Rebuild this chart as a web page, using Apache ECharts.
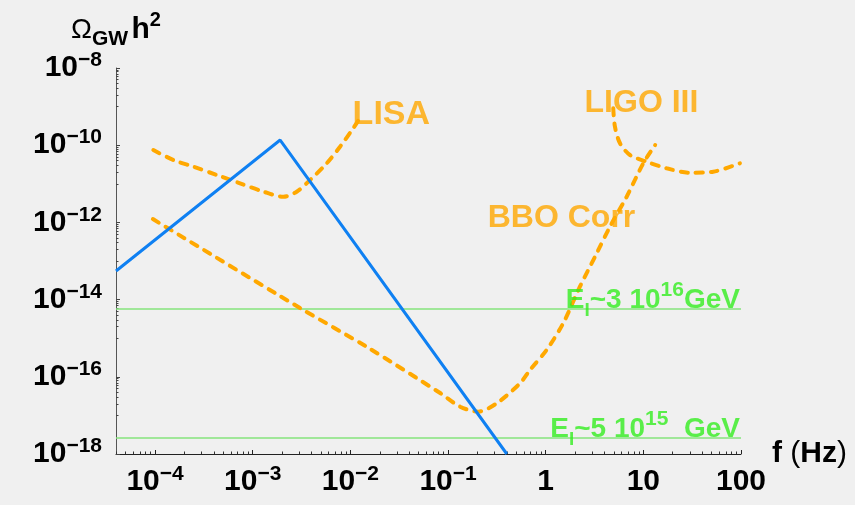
<!DOCTYPE html>
<html><head><meta charset="utf-8">
<script src="https://cdn.jsdelivr.net/npm/echarts@6/dist/echarts.min.js"></script>
<style>html,body{margin:0;padding:0;background:#f0f0f0}#c{width:855px;height:505px}</style>
</head><body><div id="c"></div>
<script>
// ---- data (frequency in Hz, Omega_GW h^2) ----
const xTickExponents = [-4, -3, -2, -1, 0, 1, 2];
const yTickExponents = [-18, -16, -14, -12, -10, -8];
const xRange = [3.98e-5, 100];
const yRange = [1e-18, 1e-8];

const inflationF = [3.98e-5, 1.91e-3, 0.40];
const inflationOmega = [5.5e-14, 1.36e-10, 1e-18];

const lisaF = [9.6e-5, 1.54e-4, 2.47e-4, 4.29e-4, 7.41e-4, 1.29e-3, 2.06e-3, 2.82e-3, 3.86e-3, 5.73e-3, 7.83e-3, 1.07e-2, 1.29e-2];
const lisaOmega = [7.5e-11, 4.14e-11, 2.77e-11, 1.69e-11, 1.03e-11, 6.24e-12, 4.63e-12, 6.24e-12, 1.25e-11, 3.40e-11, 9.14e-11, 2.74e-10, 5.70e-10];

const bboF = [9.5e-5, 3.05e-3, 1.48e-2, 8.3e-2, 0.133, 0.204, 0.315, 0.546, 0.69, 1.02, 1.51, 2.24, 3.33, 4.55, 6.75, 9.98, 13.2];
const bboOmega = [1.22e-12, 6.05e-15, 5.91e-16, 3.8e-17, 1.68e-17, 1.25e-17, 2.06e-17, 6.79e-17, 1.5e-16, 4.94e-16, 2.43e-15, 2.16e-14, 1.58e-13, 7.74e-13, 4.63e-12, 3.40e-11, 1.01e-10];

const ligoF = [4.92, 5.12, 5.77, 7.30, 10.8, 17.3, 29.9, 52.0, 97.5];
const ligoOmega = [9.04e-10, 3.01e-10, 1.12e-10, 5.57e-11, 3.74e-11, 2.52e-11, 1.94e-11, 2.06e-11, 3.40e-11];

const energyLevels = [5.7e-15, 2.6e-18];
const energyMantissa = ['~3 10', '~5 10'];
const energyExponent = ['16', '15'];
const energyUnit = ['GeV', '  GeV'];

const detectorNames = ['LISA', 'LIGO III', 'BBO Corr'];
const detectorLabelF = [0.01054, 2.50, 0.255];
const detectorLabelOmega = [6.05e-10, 1.22e-9, 1.28e-12];

// ---- build ----
const lg = Math.log10;
const toLog = (fs, os) => fs.map((f, i) => [lg(f), lg(os[i])]);
const FONT = "'Liberation Sans', Arial, Helvetica, sans-serif";
const ORANGE = '#ffa800';
const BLUE = '#0f80f2';
const GREEN_LINE = '#86e47c';
const GREEN_TEXT = '#33ee1f';

const xMin = lg(xRange[0]), xMax = lg(xRange[1]);
const yMin = lg(yRange[0]), yMax = lg(yRange[1]);

const xMinor = [];
for (let n = -5; n <= 1; n++) for (let k = 2; k <= 9; k++) {
  const v = n + lg(k); if (v > xMin && v < xMax) xMinor.push(v);
}
const yMinor = [];
yTickExponents.forEach(m => { for (let j = 1; j <= 9; j++) { const v = m - 1 + lg(j); if (v > yMin && v < yMax) yMinor.push(v); } });

const tickRich = {
  b: { fontSize: 30, fontWeight: 'bold', fontFamily: FONT, color: '#000', lineHeight: 36, verticalAlign: 'middle' },
  s: { fontSize: 21, fontWeight: 'bold', fontFamily: FONT, color: '#000', lineHeight: 16, verticalAlign: 'top' }
};
const powLabel = v => {
  const e = Math.round(v);
  if (e === 0) return '{b|1}';
  if (e === 1) return '{b|10}';
  if (e === 2) return '{b|100}';
  return '{b|10}{s|\u2212' + (-e) + '}';
};

const dashed = { color: ORANGE, width: 4, type: [7, 8], cap: 'round' };

const energySeries = energyLevels.map((lv, i) => ({
  type: 'line', symbol: 'none', silent: true, z: 2,
  lineStyle: { color: GREEN_LINE, width: 1.5 },
  data: [[xMin, lg(lv)], [xMax, lg(lv)]]
}));

const energyLabelData = energyLevels.map((lv, i) => ({
  value: [xMax, lg(lv)],
  label: {
    show: true, position: [0, 0], align: 'right', verticalAlign: 'middle', offset: [-1, -9],
    formatter: '{g|E}{i|I}{g|' + energyMantissa[i] + '}{p|' + energyExponent[i] + '}{g|' + energyUnit[i] + '}',
    rich: {
      g: { fontSize: 28, fontWeight: 'bold', fontFamily: FONT, color: GREEN_TEXT, lineHeight: 40, verticalAlign: 'middle' },
      i: { fontSize: 19, fontWeight: 'bold', fontFamily: FONT, color: GREEN_TEXT, lineHeight: 23, verticalAlign: 'bottom' },
      p: { fontSize: 21, fontWeight: 'bold', fontFamily: FONT, color: GREEN_TEXT, lineHeight: 27, verticalAlign: 'top' }
    }
  }
}));

const detectorLabelData = detectorNames.map((nm, i) => ({
  value: [lg(detectorLabelF[i]), lg(detectorLabelOmega[i])],
  name: nm,
  label: {
    show: true, position: [0, 0], align: 'left', verticalAlign: 'middle',
    formatter: '{b}', color: ORANGE, fontSize: i === 0 ? 34 : 32, fontWeight: 'bold', fontFamily: FONT
  }
}));

const chart = echarts.init(document.getElementById('c'), null, { renderer: 'canvas' });
chart.setOption({
  backgroundColor: '#f0f0f0',
  animation: false,
  grid: { left: 116, right: 114, top: 68, bottom: 51, outerBoundsMode: 'none' },
  xAxis: [{
    type: 'value', min: xMin, max: xMax, position: 'bottom',
    name: '{n|f }{r|(}{n|Hz}{r|)}', nameLocation: 'end', nameGap: 30,
    nameTextStyle: { rich: {
      n: { fontSize: 30, fontWeight: 'bold', fontFamily: FONT, color: '#000' },
      r: { fontSize: 30, fontWeight: 'normal', fontFamily: FONT, color: '#000' }
    } },
    axisLine: { show: true, onZero: false, lineStyle: { color: '#222', width: 1 } },
    axisTick: { show: true, inside: true, length: 4, customValues: xTickExponents, lineStyle: { color: '#222' } },
    axisLabel: { show: true, margin: 10, customValues: xTickExponents, formatter: powLabel, rich: tickRich },
    splitLine: { show: false }
  }, {
    type: 'value', min: xMin, max: xMax, position: 'bottom',
    axisLine: { show: false, onZero: false },
    axisTick: { show: true, inside: true, length: 2.5, customValues: xMinor, lineStyle: { color: '#333' } },
    axisLabel: { show: false }, splitLine: { show: false }
  }],
  yAxis: [{
    type: 'value', min: yMin, max: yMax, position: 'left',
    name: '{o|\u03A9}{g|GW} {h|h}{p|2}', nameLocation: 'end', nameGap: 16,
    nameTextStyle: { rich: {
      o: { fontSize: 28, fontWeight: 'normal', fontFamily: FONT, color: '#000', lineHeight: 40, verticalAlign: 'middle' },
      g: { fontSize: 21, fontWeight: 'bold', fontFamily: FONT, color: '#000', lineHeight: 22, verticalAlign: 'bottom' },
      h: { fontSize: 30, fontWeight: 'bold', fontFamily: FONT, color: '#000', lineHeight: 40, verticalAlign: 'middle' },
      p: { fontSize: 20, fontWeight: 'bold', fontFamily: FONT, color: '#000', lineHeight: 16, verticalAlign: 'top' }
    } },
    axisLine: { show: true, onZero: false, lineStyle: { color: '#555', width: 1 } },
    axisTick: { show: true, inside: true, length: 4, customValues: yTickExponents, lineStyle: { color: '#444' } },
    axisLabel: { show: true, margin: 14, customValues: yTickExponents, formatter: powLabel, rich: tickRich },
    splitLine: { show: false }
  }, {
    type: 'value', min: yMin, max: yMax, position: 'left',
    axisLine: { show: false, onZero: false },
    axisTick: { show: true, inside: true, length: 2.5, customValues: yMinor, lineStyle: { color: '#444' } },
    axisLabel: { show: false }, splitLine: { show: false }
  }],
  series: [
    ...energySeries,
    { type: 'line', name: 'LISA', symbol: 'none', smooth: 0.3, z: 3, lineStyle: dashed, data: toLog(lisaF, lisaOmega) },
    { type: 'line', name: 'BBO Corr', symbol: 'none', smooth: 0.3, z: 3, lineStyle: dashed, data: toLog(bboF, bboOmega) },
    { type: 'line', name: 'LIGO III', symbol: 'none', smooth: 0.3, z: 3, lineStyle: dashed, data: toLog(ligoF, ligoOmega) },
    { type: 'line', name: 'inflation', symbol: 'none', z: 4, lineStyle: { color: BLUE, width: 3 }, data: toLog(inflationF, inflationOmega) },
    { type: 'scatter', symbolSize: 0, silent: true, z: 5, data: detectorLabelData },
    { type: 'scatter', symbolSize: 0, silent: true, z: 5, data: energyLabelData }
  ]
});
</script>
</body></html>
